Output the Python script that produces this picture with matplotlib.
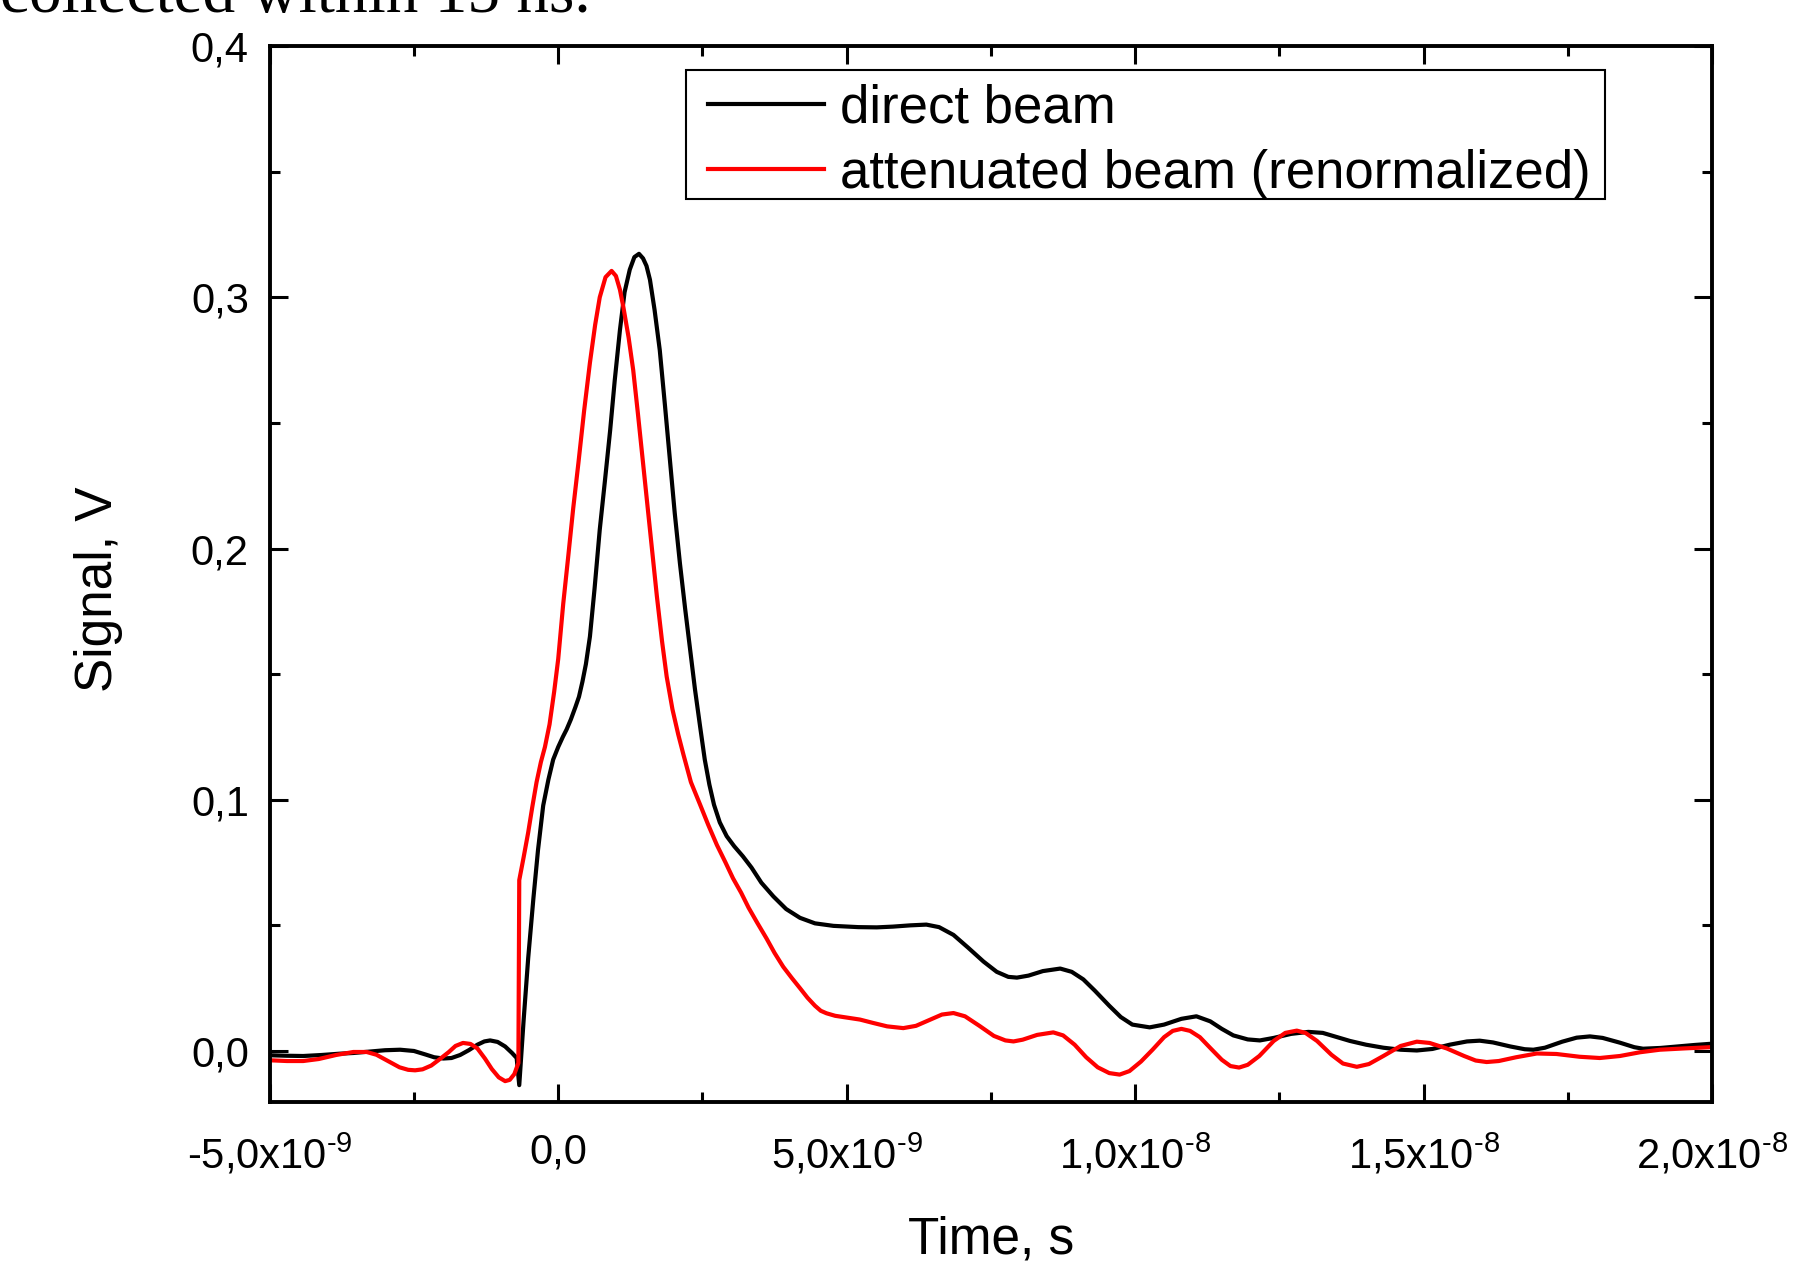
import matplotlib
matplotlib.use('Agg')
import matplotlib.pyplot as plt
from matplotlib.patches import Rectangle
import numpy as np

plt.rcParams['font.family'] = ['Liberation Sans', 'DejaVu Sans']
plt.rcParams['mathtext.fontset'] = 'custom'
plt.rcParams['mathtext.rm'] = 'Liberation Sans'
plt.rcParams['mathtext.it'] = 'Liberation Sans'
plt.rcParams['mathtext.bf'] = 'Liberation Sans'

# direct beam: time (ns), signal (V)
t_direct = [-5.0, -4.7, -4.42, -4.1, -3.8, -3.55, -3.3, -3.0, -2.74, -2.5,
            -2.3, -2.15, -1.99, -1.85, -1.7, -1.55, -1.4, -1.28, -1.18, -1.05,
            -0.92, -0.8, -0.72, -0.675, -0.60, -0.52, -0.43, -0.35, -0.26, -0.17,
            -0.087, 0.0, 0.08, 0.146, 0.22, 0.30, 0.36, 0.42, 0.48, 0.55,
            0.63, 0.72, 0.81, 0.90, 0.98, 1.07, 1.15, 1.24, 1.32, 1.40,
            1.47, 1.53, 1.59, 1.67, 1.76, 1.85, 1.94, 2.02, 2.11, 2.20,
            2.28, 2.37, 2.46, 2.54, 2.62, 2.70, 2.80, 2.92, 3.05, 3.2,
            3.35, 3.52, 3.73, 3.95, 4.19, 4.45, 4.77, 5.2, 5.52, 5.8,
            6.1, 6.38, 6.6, 6.85, 7.1, 7.37, 7.6, 7.8, 7.95, 8.15,
            8.4, 8.70, 8.9, 9.1, 9.3, 9.55, 9.75, 9.95, 10.25, 10.5,
            10.8, 11.06, 11.3, 11.5, 11.7, 11.95, 12.16, 12.4, 12.7, 13.0,
            13.25, 13.5, 13.72, 14.0, 14.3, 14.6, 14.88, 15.15, 15.45, 15.75,
            15.97, 16.2, 16.5, 16.75, 16.90, 17.1, 17.4, 17.65, 17.88, 18.1,
            18.4, 18.65, 18.80, 19.1, 19.4, 19.7, 20.0]
v_direct = [-0.0017, -0.0019, -0.0020, -0.0016, -0.0011, -0.0008, -0.0003, 0.0003, 0.0005, 0.0000,
            -0.0014, -0.0025, -0.0030, -0.0028, -0.0016, 0.0003, 0.0025, 0.0038, 0.0042, 0.0036,
            0.0018, -0.0008, -0.0028, -0.0136, 0.012, 0.037, 0.0607, 0.080, 0.0977, 0.108,
            0.116, 0.121, 0.125, 0.128, 0.132, 0.137, 0.141, 0.147, 0.154, 0.165,
            0.184, 0.2075, 0.227, 0.247, 0.267, 0.287, 0.302, 0.311, 0.316, 0.3173,
            0.3155, 0.3125, 0.307, 0.295, 0.279, 0.257, 0.234, 0.214, 0.194, 0.176,
            0.161, 0.144, 0.129, 0.116, 0.106, 0.098, 0.091, 0.0855, 0.0815, 0.0775,
            0.073, 0.067, 0.0615, 0.0565, 0.053, 0.0508, 0.0498, 0.0493, 0.0492, 0.0495,
            0.050, 0.0503, 0.0493, 0.0462, 0.0412, 0.0356, 0.0315, 0.0295, 0.0292, 0.030,
            0.0318, 0.0328, 0.0315, 0.0285, 0.024, 0.018, 0.0135, 0.0105, 0.0094, 0.0105,
            0.0128, 0.0138, 0.0118, 0.0088, 0.0062, 0.0046, 0.0042, 0.0052, 0.0068, 0.0076,
            0.0072, 0.0055, 0.0040, 0.0025, 0.0013, 0.0005, 0.0002, 0.0008, 0.0025, 0.0038,
            0.0041, 0.0034, 0.0018, 0.0007, 0.0005, 0.0013, 0.0037, 0.0053, 0.0058, 0.0052,
            0.0033, 0.0015, 0.0009, 0.0012, 0.0018, 0.0024, 0.0029]

# attenuated beam (renormalized)
t_atten = [-5.0, -4.7, -4.42, -4.15, -3.85, -3.55, -3.32, -3.15, -2.95, -2.75,
           -2.6, -2.48, -2.35, -2.2, -2.05, -1.9, -1.78, -1.65, -1.52, -1.4,
           -1.27, -1.15, -1.03, -0.92, -0.84, -0.76, -0.69, -0.675, -0.6, -0.52,
           -0.45, -0.375, -0.30, -0.23, -0.15, -0.07, 0.0, 0.087, 0.17, 0.26,
           0.35, 0.45, 0.55, 0.64, 0.72, 0.82, 0.925, 1.0, 1.07, 1.13,
           1.22, 1.30, 1.38, 1.47, 1.59, 1.71, 1.80, 1.88, 1.98, 2.08,
           2.17, 2.30, 2.46, 2.6, 2.75, 2.9, 3.03, 3.17, 3.3, 3.45,
           3.61, 3.75, 3.9, 4.05, 4.19, 4.32, 4.45, 4.55, 4.65, 4.8,
           5.0, 5.23, 5.45, 5.7, 5.98, 6.2, 6.45, 6.65, 6.85, 7.05,
           7.3, 7.55, 7.75, 7.89, 8.05, 8.3, 8.58, 8.75, 8.95, 9.15,
           9.35, 9.55, 9.73, 9.9, 10.1, 10.3, 10.5, 10.65, 10.8, 10.95,
           11.12, 11.3, 11.5, 11.65, 11.8, 11.95, 12.15, 12.4, 12.6, 12.80,
           12.95, 13.15, 13.4, 13.6, 13.84, 14.05, 14.3, 14.6, 14.88, 15.1,
           15.4, 15.7, 15.9, 16.09, 16.3, 16.6, 16.96, 17.3, 17.7, 18.05,
           18.4, 18.75, 19.09, 19.5, 19.96]
v_atten = [-0.0037, -0.0040, -0.0040, -0.0032, -0.0016, -0.0004, -0.0004, -0.0015, -0.0040, -0.0065,
           -0.0075, -0.0077, -0.0073, -0.0058, -0.0032, -0.0005, 0.0020, 0.0032, 0.0028, 0.0010,
           -0.0030, -0.0072, -0.0105, -0.0120, -0.0115, -0.0092, -0.0048, 0.068, 0.077, 0.087,
           0.097, 0.107, 0.115, 0.121, 0.130, 0.143, 0.156, 0.178, 0.196, 0.216,
           0.234, 0.255, 0.274, 0.289, 0.300, 0.308, 0.3105, 0.3085, 0.303, 0.296,
           0.284, 0.271, 0.254, 0.234, 0.207, 0.181, 0.163, 0.149, 0.136, 0.126,
           0.118, 0.107, 0.098, 0.090, 0.082, 0.075, 0.0687, 0.063, 0.057, 0.051,
           0.0448, 0.039, 0.0335, 0.029, 0.025, 0.0212, 0.018, 0.016, 0.0150, 0.0140,
           0.0133, 0.0125, 0.0112, 0.0098, 0.0091, 0.0100, 0.0125, 0.0145, 0.0151, 0.0138,
           0.0100, 0.0060, 0.0042, 0.0038, 0.0045, 0.0064, 0.0074, 0.0062, 0.0025, -0.0025,
           -0.0065, -0.0088, -0.0094, -0.0080, -0.0042, 0.0005, 0.0055, 0.0080, 0.0088, 0.0080,
           0.0055, 0.0012, -0.0035, -0.0060, -0.0066, -0.0055, -0.0020, 0.0040, 0.0072, 0.0081,
           0.0072, 0.0040, -0.0015, -0.0050, -0.0063, -0.0052, -0.0020, 0.0020, 0.0037, 0.0032,
           0.0010, -0.0020, -0.0038, -0.0044, -0.0040, -0.0025, -0.0010, -0.0012, -0.0023, -0.0028,
           -0.0020, -0.0005, 0.0005, 0.0010, 0.0015]

x_ticks = [-5e-9, 0.0, 5e-9, 1e-8, 1.5e-8, 2e-8]
x_labels = [r'-5,0x10$^{\text{-9}}$', '0,0', r'5,0x10$^{\text{-9}}$', r'1,0x10$^{\text{-8}}$',
            r'1,5x10$^{\text{-8}}$', r'2,0x10$^{\text{-8}}$']
y_ticks = [0.0, 0.1, 0.2, 0.3, 0.4]
y_labels = ['0,0', '0,1', '0,2', '0,3', '0,4']

fig = plt.figure(figsize=(18.1, 12.62), dpi=100)
ax = fig.add_axes([0.149, 0.127, 0.797, 0.8365])

ax.plot(np.array(t_direct) * 1e-9, v_direct, color='black', lw=3, label='direct beam')
ax.plot(np.array(t_atten) * 1e-9, v_atten, color='red', lw=3,
        label='attenuated beam (renormalized)')

ax.set_xlim(-5e-9, 2e-8)
ax.set_ylim(-0.0202, 0.4)
ax.set_xticks(x_ticks)
ax.set_xticklabels(x_labels)
ax.set_xticks(np.arange(-2.5e-9, 2e-8, 5e-9), minor=True)
ax.set_yticks(y_ticks)
ax.set_yticklabels(y_labels)
ax.set_yticks([0.05, 0.15, 0.25, 0.35], minor=True)

ax.tick_params(which='both', direction='in', top=True, right=True, width=2.2)
ax.tick_params(which='major', length=13, labelsize=30)
ax.tick_params(which='minor', length=7)
ax.tick_params(axis='x', which='major', pad=22)
ax.tick_params(axis='y', which='major', pad=15)
for sp in ax.spines.values():
    sp.set_linewidth(2.8)

ax.set_xlabel('Time, s', fontsize=37, labelpad=27)
ax.set_ylabel('Signal, V', fontsize=37)
ax.yaxis.set_label_coords(-0.102, 0.485)

# legend: plain square box, a bit wider than the entries
box = Rectangle((0.2883, 0.8556), 0.6371, 0.1213, transform=ax.transAxes,
                facecolor='white', edgecolor='black', lw=1.5, zorder=4)
ax.add_patch(box)
leg = ax.legend(loc='upper right', bbox_to_anchor=(0.9209, 0.9716), fontsize=38,
                frameon=False, borderaxespad=0, handlelength=2.2,
                handletextpad=0.3, borderpad=0.14, labelspacing=0.29)
leg.set_zorder(5)

# caption line from the page, cut at the top edge
fig.text(0.0, 0.9905, 'collected within 15 ns.', family=['Liberation Serif'],
         fontsize=47, va='baseline', ha='left')

fig.savefig('out.png', dpi=100)
